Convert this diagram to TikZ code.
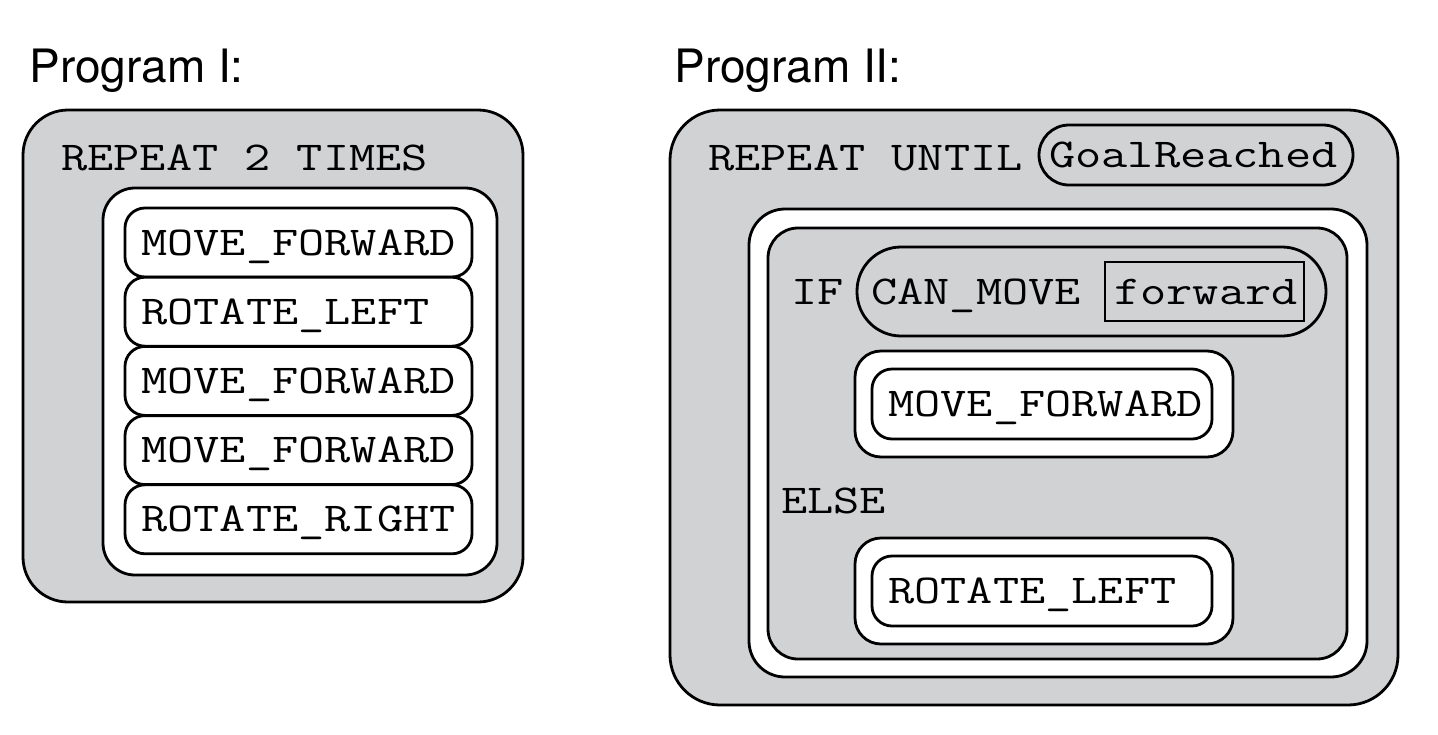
\documentclass[tikz,border=0pt]{standalone}
\usepackage{fontspec}
\newfontfamily\codefont[FakeStretch=1.24]{Latin Modern Mono}
\newfontfamily\labelfont{TeX Gyre Heros}
\definecolor{blockgray}{RGB}{209,210,212}

\begin{document}
\begin{tikzpicture}[x=1pt, y=-1pt, line width=2.8pt,
    code/.style={anchor=base west, inner sep=0pt, font=\codefont\fontsize{41}{48}\selectfont},
    title/.style={anchor=base west, inner sep=0pt, font=\labelfont\fontsize{46}{54}\selectfont},
    pill/.style={rounded corners=#1},
    pill/.default=20pt]
    \useasboundingbox (0,0) rectangle (1438,734);

    % Program I
    \node[title] (titleI) at (28,82) {Program I:};
    \filldraw[fill=blockgray, pill=45pt] (23,110) rectangle (523,602);
    \node[code] (repeatI) at (60,170) {REPEAT 2 TIMES};
    \filldraw[fill=white, pill=32pt] (103,188) rectangle (497,575);
    \foreach \txt [count=\i from 0] in {MOVE\_FORWARD,ROTATE\_LEFT,MOVE\_FORWARD,MOVE\_FORWARD,ROTATE\_RIGHT} {
        \filldraw[fill=white, pill] (125,208+69.2*\i) rectangle (472,277+69.2*\i);
        \node[code] (cmd\i) at (140,255+69.2*\i) {\txt};
    }

    % Program II
    \node[title] (titleII) at (673,82) {Program II:};
    \filldraw[fill=blockgray, pill=50pt] (670,110) rectangle (1398,705);
    \node[code] (repeatII) at (707,170) {REPEAT UNTIL};
    \draw[pill=30pt] (1039,125) rectangle (1353,185);
    \node[code] (goal) at (1048,167) {GoalReached};

    \filldraw[fill=white, pill=36pt] (749,209) rectangle (1367,677);
    \filldraw[fill=blockgray, pill=30pt] (768,228) rectangle (1347,659);

    \node[code] (if) at (790,304) {IF};
    \draw[pill=44pt] (857,247) rectangle (1326,336);
    \node[code] (canmove) at (870,304) {CAN\_MOVE};
    \draw[line width=2.5pt] (1105,262) rectangle (1304,321);
    \node[code] (dir) at (1113,304) {forward};

    \filldraw[fill=white, pill=26pt] (855,351) rectangle (1233,457);
    \filldraw[fill=white, pill] (872,369) rectangle (1212,439);
    \node[code] (thenmove) at (887,416) {MOVE\_FORWARD};

    \node[code] (else) at (780,513) {ELSE};
    \filldraw[fill=white, pill=26pt] (855,538) rectangle (1233,644);
    \filldraw[fill=white, pill] (872,556) rectangle (1212,626);
    \node[code] (elserotate) at (887,603) {ROTATE\_LEFT};

\end{tikzpicture}
\end{document}
